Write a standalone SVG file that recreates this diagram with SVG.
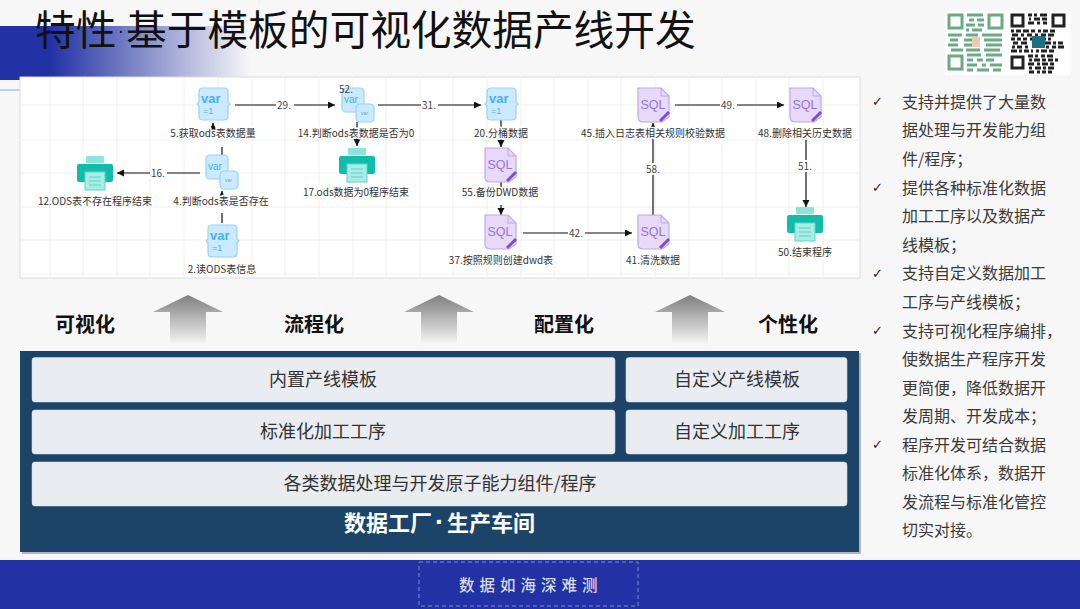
<svg xmlns="http://www.w3.org/2000/svg" width="1080" height="609" viewBox="0 0 1080 609">
<style>
text{font-family:"Noto Sans CJK SC","Liberation Sans",sans-serif}
.l{font-size:10px;fill:#333;text-anchor:middle;paint-order:stroke;stroke:#fff;stroke-width:3px;stroke-linejoin:round}
.e{font-size:10px;fill:#444;text-anchor:middle}
.c{stroke:#111;stroke-width:1.2;fill:none;marker-end:url(#a)}
.bl{fill:#e9ecf0;stroke:#dfe3ea;stroke-width:.5}
.bt{font-size:18px;fill:#333;text-anchor:middle}
.h{font-size:20px;font-weight:700;fill:#111;text-anchor:middle}
.r{font-size:16px;fill:#3a3a3a}
.ck{font-size:13px;fill:#222;font-family:"DejaVu Sans",sans-serif;font-weight:700}
.grid{stroke:#efefef;stroke-width:1}
.v1{fill:#cbe9ff;stroke:#93d4fb;stroke-width:1.2}
.vt{font-family:"Liberation Sans",sans-serif;fill:#45b2f0}
.s1{fill:#e6daf8;stroke:#c0a8ea;stroke-width:1.2}
.st{font-family:"Liberation Sans",sans-serif;font-size:12.5px;fill:#9a72de;text-anchor:middle}
.w{fill:#fff}
</style>
<defs>
<marker id="a" markerWidth="8" markerHeight="8" refX="7" refY="3.5" orient="auto" markerUnits="userSpaceOnUse"><path d="M0 0L7 3.5L0 7Z" fill="#111"/></marker>
<linearGradient id="bar"><stop offset="0" stop-color="#2232a4"/><stop offset=".2" stop-color="#2232a4"/><stop offset="1" stop-color="#2232a4" stop-opacity="0"/></linearGradient>
<linearGradient id="arw" x1="0" y1="0" x2="0" y2="1"><stop offset="0" stop-color="#7f7f7f"/><stop offset="1" stop-color="#f7f7f7"/></linearGradient>
<path id="br" d="M-10-16H11Q15-16 15-12V-2L17 0L15 2V12Q15 16 11 16H-10Q-14 16-14 12V2L-16 0L-14-2V-12Q-14-16-10-16Z" class="v1"/>
<g id="var"><use href="#br"/><text x="-12" y="-1" class="vt" font-size="13" font-weight="700">var</text><text x="-10" y="10" class="vt" font-size="9">=1</text></g>
<g id="var2"><rect x="-14" y="-16" width="22" height="24" rx="4" class="v1"/><rect x="0" y="0" width="18" height="18" rx="4" class="v1"/><text x="-12" y="-1" class="vt" font-size="10">var</text><text x="5" y="11" class="vt" font-size="5">var</text></g>
<g id="sql"><path d="M-15-17H8L16-9V12L9 17H-10Q-15 17-15 12Z" class="s1"/><path d="M8-17V-9H16" fill="none" stroke="#c0a8ea"/><text y="4" class="st">SQL</text><path d="M7 16L16 7" stroke="#7b4fd0" stroke-width="3"/></g>
<g id="pr"><rect x="-9" y="-17" width="18" height="7" rx="1" fill="#8ce4da"/><rect x="-18" y="-9" width="36" height="18" rx="2" fill="#12bcaa"/><rect x="-10" y="-1" width="20" height="18" fill="#a8ece4" stroke="#5ad6c8"/><path d="M-6 4H6M-6 8H6M-6 12H6" stroke="#5ad6c8"/></g>
</defs>
<rect width="1080" height="609" fill="#f7f7f7"/>
<rect x="0" y="26" width="250" height="54" fill="url(#bar)"/>
<path d="M0 90H20" stroke="#8aa8e8" stroke-width="1"/>
<text font-size="40.7" fill="#111"><tspan x="35" y="45">特性</tspan><tspan x="117.5" y="37" font-size="20" font-family="Liberation Sans">·</tspan><tspan x="126" y="45">基于模板的可视化数据产线开发</tspan></text>
<g id="qr"><rect x="945" y="11" width="126" height="64" fill="#fff"/>
<g fill="none" stroke="#6aaa84" stroke-width="3"><rect x="949" y="15" width="13" height="13"/><rect x="989" y="15" width="13" height="13"/><rect x="949" y="56" width="13" height="13"/></g>
<path d="M967 15h16M969 20h5m3 0h7M966 25h9m3 0h6M966 30h3m3 0h10M948 35h14m4 0h12m4 0h20M950 40h8m6 0h10m10 0h18M948 45h10m6 0h8m14 0h16M951 50h12m3 0h14m4 0h16M967 55h14m5 0h16M967 60h6m4 0h6m3 0h8M967 65h10m5 0h4m4 0h12M967 70h6m4 0h12m4 0h8" stroke="#6aaa84" stroke-width="3"/>
<rect x="972" y="37" width="8" height="10" fill="#ecc9b8"/>
<g fill="none" stroke="#222" stroke-width="3"><rect x="1012" y="15" width="11" height="11"/><rect x="1053" y="15" width="11" height="11"/><rect x="1012" y="57" width="11" height="11"/></g>
<path d="M1028 15h4m2 0h3m3 0h7M1029 19h2m3 0h6m2 0h5M1028 23h6m3 0h3m3 0h4M1011 31h3m2 0h5m2 0h6m2 0h4m3 0h3m2 0h5m2 0h5M1012 35h6m3 0h3m3 0h5m3 0h3m3 0h5m2 0h6M1011 39h4m2 0h4m2 0h4m3 0h3m3 0h4m3 0h3m2 0h3M1013 43h5m3 0h6M1012 47h3m2 0h5m3 0h3M1011 51h6m2 0h3m2 0h5m2 0h2m3 0h3m2 0h6m2 0h5M1028 56h5m2 0h3m3 0h4m2 0h6M1029 60h3m2 0h6m2 0h4m2 0h5m2 0h3M1028 64h6m3 0h3m2 0h6m2 0h4M1029 68h3m3 0h6m2 0h3m2 0h6M1029 72h5m3 0h3m2 0h4m2 0h4M1045 43h6m2 0h3m2 0h5M1046 47h3m3 0h4m2 0h6" stroke="#222" stroke-width="3"/>
<rect x="1032" y="36" width="13" height="12" fill="#1f6f80"/>
</g>

<g id="canvas">
<rect x="20" y="77" width="840" height="201" fill="#fff" stroke="#dcdcdc"/>
<path class="grid" d="M50 78V277M83 78V277M117 78V277M150 78V277M184 78V277M218 78V277M252 78V277M285 78V277M319 78V277M353 78V277M386 78V277M420 78V277M453 78V277M487 78V277M521 78V277M554 78V277M588 78V277M621 78V277M655 78V277M689 78V277M722 78V277M756 78V277M789 78V277M823 78V277M21 105H859M21 140H859M21 173H859M21 207H859M21 240H859M21 274H859"/>
</g>

<g id="connectors">
<path class="c" d="M235 105H335"/>
<path class="c" d="M378 105H481"/>
<path class="c" d="M675 105H784"/>
<path class="c" d="M200 173H117"/>
<path class="c" d="M222 156V135H213V123"/>
<path class="c" d="M222 223V191"/>
<path class="c" d="M357 122V146"/>
<path class="c" d="M501 120V147"/>
<path class="c" d="M501 182V215"/>
<path class="c" d="M523 233H632"/>
<path class="c" d="M653 215V123"/>
<path class="c" d="M806 140V207"/>
</g>
<g id="edge-labels">
<rect class="w" x="276" y="100" width="18" height="10"/><text class="e" x="284" y="109">29.</text>
<rect class="w" x="421" y="100" width="17" height="10"/><text class="e" x="429" y="109">31.</text>
<rect class="w" x="720" y="100" width="17" height="10"/><text class="e" x="728" y="109">49.</text>
<rect class="w" x="150" y="168" width="17" height="10"/><text class="e" x="158" y="177">16.</text>
<rect class="w" x="568" y="228" width="17" height="10"/><text class="e" x="576" y="237">42.</text>
<rect class="w" x="645" y="163" width="16" height="12"/><text class="e" x="653" y="173">58.</text>
<rect class="w" x="797" y="160" width="17" height="12"/><text class="e" x="805" y="170">51.</text>
<rect class="w" x="214" y="138" width="16" height="9"/>
<rect class="w" x="214" y="200" width="16" height="13"/>
<rect class="w" x="493" y="190" width="16" height="15"/>
</g>

<g id="n5"><use href="#var" x="213" y="104"/><text class="l" x="213" y="137">5.获取ods表数据量</text></g>
<g id="n14"><use href="#var2" x="356" y="104"/><text class="l" x="356" y="137">14.判断ods表数据是否为0</text></g>
<text class="e" x="346" y="93">52.</text>
<g id="n20"><use href="#var" x="501" y="104"/><text class="l" x="501" y="137">20.分桶数据</text></g>
<g id="n45"><use href="#sql" x="653" y="105"/><text class="l" x="653" y="137">45.插入日志表相关规则校验数据</text></g>
<g id="n48"><use href="#sql" x="805" y="105"/><text class="l" x="805" y="137">48.删除相关历史数据</text></g>
<g id="n4"><use href="#var2" x="220" y="171"/><text class="l" x="221" y="205">4.判断ods表是否存在</text></g>
<g id="n12"><use href="#pr" x="95" y="173"/><text class="l" x="95" y="205">12.ODS表不存在程序结束</text></g>
<g id="n17"><use href="#pr" x="357" y="165"/><text class="l" x="356" y="196">17.ods数据为0程序结束</text></g>
<g id="n55"><use href="#sql" x="500" y="165"/><text class="l" x="500" y="196">55.备份DWD数据</text></g>
<g id="n37"><use href="#sql" x="500" y="232"/><text class="l" x="501" y="264">37.按照规则创建dwd表</text></g>
<g id="n41"><use href="#sql" x="653" y="232"/><text class="l" x="653" y="264">41.清洗数据</text></g>
<g id="n50"><use href="#pr" x="805" y="224"/><text class="l" x="805" y="256">50.结束程序</text></g>
<g id="n2"><use href="#var" x="222" y="241"/><text class="l" x="222" y="273">2.读ODS表信息</text></g>

<g id="arrows">
<path d="M153 312L188 295L223 312H206V345H170V312Z" fill="url(#arw)"/>
<path d="M404 312L439 295L474 312H457V345H421V312Z" fill="url(#arw)"/>
<path d="M655 312L690 295L725 312H708V345H672V312Z" fill="url(#arw)"/>
</g>
<text class="h" x="85" y="332">可视化</text>
<text class="h" x="314" y="332">流程化</text>
<text class="h" x="564" y="332">配置化</text>
<text class="h" x="788" y="332">个性化</text>

<g id="factory">
<rect x="22" y="353" width="839" height="201" fill="#b4b8bd"/>
<rect x="20" y="351" width="839" height="201" fill="#1c4468"/>
<g id="b1"><rect class="bl" x="32" y="357.5" width="583" height="44.5" rx="3"/><text class="bt" x="323" y="386">内置产线模板</text></g>
<g id="b2"><rect class="bl" x="626" y="357.5" width="221" height="44.5" rx="3"/><text class="bt" x="737" y="386">自定义产线模板</text></g>
<g id="b3"><rect class="bl" x="32" y="410" width="583" height="44" rx="3"/><text class="bt" x="323" y="438">标准化加工工序</text></g>
<g id="b4"><rect class="bl" x="626" y="410" width="221" height="44" rx="3"/><text class="bt" x="737" y="438">自定义加工工序</text></g>
<g id="b5"><rect class="bl" x="32" y="462" width="815" height="44" rx="3"/><text class="bt" x="440" y="490">各类数据处理与开发原子能力组件/程序</text></g>
<text y="531" font-size="22" font-weight="700" fill="#fff"><tspan x="344">数据工厂</tspan><tspan x="435" font-family="Liberation Sans" font-size="28">·</tspan><tspan x="447">生产车间</tspan></text>
</g>

<g id="notes">
<text class="ck" x="872" y="106">✓</text>
<text class="r"><tspan x="902" y="107.5">支持并提供了大量数</tspan><tspan x="902" y="136">据处理与开发能力组</tspan><tspan x="902" y="164.5">件/程序；</tspan></text>
<text class="ck" x="872" y="192">✓</text>
<text class="r"><tspan x="902" y="193.5">提供各种标准化数据</tspan><tspan x="902" y="222">加工工序以及数据产</tspan><tspan x="902" y="250.5">线模板；</tspan></text>
<text class="ck" x="872" y="278">✓</text>
<text class="r"><tspan x="902" y="279">支持自定义数据加工</tspan><tspan x="902" y="307.5">工序与产线模板；</tspan></text>
<text class="ck" x="872" y="335">✓</text>
<text class="r"><tspan x="902" y="336.5">支持可视化程序编排，</tspan><tspan x="902" y="365">使数据生产程序开发</tspan><tspan x="902" y="393.5">更简便，降低数据开</tspan><tspan x="902" y="422">发周期、开发成本；</tspan></text>
<text class="ck" x="872" y="449">✓</text>
<text class="r"><tspan x="902" y="450.5">程序开发可结合数据</tspan><tspan x="902" y="479">标准化体系，数据开</tspan><tspan x="902" y="507.5">发流程与标准化管控</tspan><tspan x="902" y="536">切实对接。</tspan></text>
</g>

<g id="footer">
<rect x="0" y="560" width="1080" height="49" fill="#2232a4"/>
<rect x="419" y="562" width="219" height="44" fill="none" stroke="#7f8bd0" stroke-dasharray="4 3"/>
<text x="459" y="591" font-size="15.5" font-weight="500" fill="#d8dbe8" letter-spacing="5">数据如海深难测</text>
</g>
</svg>
